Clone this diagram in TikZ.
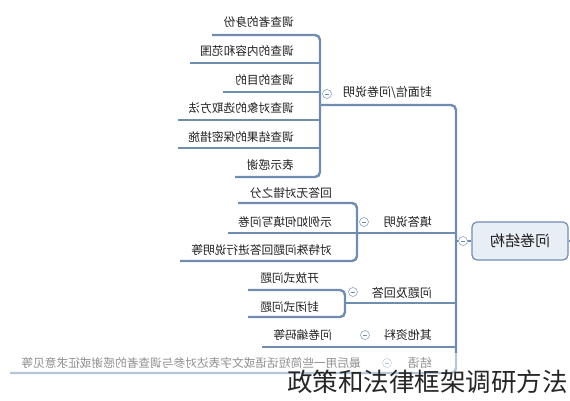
\documentclass[tikz,border=0pt]{standalone}
\usepackage{fontspec}
\usepackage{graphicx}
\newfontfamily\cjk{Noto Sans CJK SC}
\usetikzlibrary{positioning,calc}

\definecolor{branchblue}{RGB}{112,141,176}
\definecolor{rootfill}{RGB}{232,238,246}
\newcommand{\mirr}[1]{\scalebox{-1}[1]{#1}}

\tikzset{
  leaf/.style={anchor=east, inner sep=1pt, text=black!88, font=\cjk\fontsize{11.7}{12}\selectfont},
  topic/.style={leaf, font=\cjk\fontsize{12}{12}\selectfont},
  link/.style={branchblue, line width=2.4pt, rounded corners=5pt},
  fold/.style={circle, draw=branchblue!80, fill=white, line width=0.6pt, minimum size=9pt, inner sep=0pt,
    path picture={\draw[branchblue, line width=0.6pt] ([xshift=2.5pt]path picture bounding box.west) -- ([xshift=-2.5pt]path picture bounding box.east);}},
}

\begin{document}
\begin{tikzpicture}[x=1pt,y=-1pt]
	\useasboundingbox (0,0) rectangle (570,400);
	% root
	\node[draw=branchblue, fill=rootfill, line width=1.2pt, rounded corners=5pt, minimum width=96pt, minimum height=38pt,
	  text=black!88, font=\cjk\fontsize{15}{15}\selectfont] (root) at (520,241) {\mirr{问卷结构}};
	\draw[link] (root.east) -- (570,241);
	\draw[link] (456,241) -- (root.west);
	\node[fold] (f0) at (463,241) {};
	% trunk with first and last branch
	\draw[link] (320,105) -- (456,105) -- (456,373) -- (10,373);
	\draw[link] (357,233) -- (456,233);
	\draw[link] (345,303) -- (456,303);
	\draw[link] (262,347) -- (456,347);

	% branch labels
	\node[topic] (cover) at (433,93) {\mirr{封面信/问卷说明}};
	\node[topic] (guide) at (433,222) {\mirr{填答说明}};
	\node[topic] (qa) at (433,293) {\mirr{问题及回答}};
	\node[topic] (other) at (433,335) {\mirr{其他资料}};
	\node[topic] (end) at (433,363) {\mirr{结语}};
	\node[fold] (f1) at (327,94) {};
	\node[fold] (f2) at (364,222) {};
	\node[fold] (f3) at (353,292) {};
	\node[fold] (f4) at (365,335) {};
	\node[fold] (f5) at (387,363) {};

	% cover letter
	\draw[link] (212,35) -- (320,35) -- (320,177) -- (235,177);
	\draw[link] (190,63) -- (320,63);
	\draw[link] (223,92) -- (320,92);
	\draw[link] (178,120) -- (320,120);
	\draw[link] (178,148) -- (320,148);
	\node[leaf] (c1) at (295,22) {\mirr{调查者的身份}};
	\node[leaf] (c2) at (295,51) {\mirr{调查的内容和范围}};
	\node[leaf] (c3) at (295,80) {\mirr{调查的目的}};
	\node[leaf] (c4) at (295,108) {\mirr{调查对象的选取方法}};
	\node[leaf] (c5) at (295,137) {\mirr{调查结果的保密措施}};
	\node[leaf] (c6) at (295,165) {\mirr{表示感谢}};

	% instructions
	\draw[link] (238,203) -- (357,203) -- (357,261) -- (180,261);
	\draw[link] (228,233) -- (357,233);
	\node[leaf] (g1) at (333,193) {\mirr{回答无对错之分}};
	\node[leaf] (g2) at (333,222) {\mirr{示例如何填写问卷}};
	\node[leaf] (g3) at (333,250) {\mirr{对特殊问题回答进行说明等}};

	% questions
	\draw[link] (248,290) -- (345,290) -- (345,317) -- (248,317);
	\node[leaf] (q1) at (320,278) {\mirr{开放式问题}};
	\node[leaf] (q2) at (320,307) {\mirr{封闭式问题}};

	% other
	\node[leaf] (o1) at (333,335) {\mirr{问卷编码等}};
	\node[leaf] (e1) at (362,363) {\mirr{最后用一些简短话语或文字表达对参与调查者的感谢或征求意见等}};

	% faded bottom and caption
	\fill[white, opacity=0.5] (0,353) rectangle (570,400);
	\node[anchor=east, inner sep=0pt, text=black!85, font=\cjk\fontsize{25.5}{26}\selectfont] (mark) at (568,382) {政策和法律框架调研方法};
\end{tikzpicture}
\end{document}
